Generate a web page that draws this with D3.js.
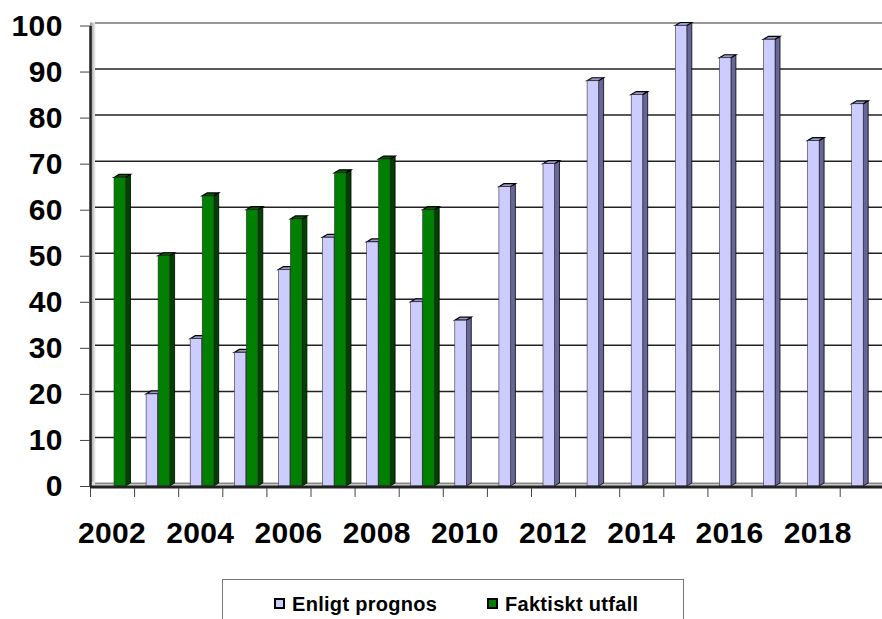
<!DOCTYPE html>
<html>
<head>
<meta charset="utf-8">
<script src="https://cdn.jsdelivr.net/npm/d3@7"></script>
<style>
  body { margin: 0; background: #fff; }
  text { font-family: "Liberation Sans", Arial, sans-serif; font-weight: bold; }
</style>
</head>
<body>
<script>
var w = 882;
var h = 619;

// chart data
var years = [2002, 2003, 2004, 2005, 2006, 2007, 2008, 2009, 2010,
   2011, 2012, 2013, 2014, 2015, 2016, 2017, 2018, 2019];
var prognos = [null, 20, 32, 29, 47, 54, 53, 40, 36,
   65, 70, 88, 85, 100, 93, 97, 75, 83];
var utfall = [67, 50, 63, 60, 58, 68, 71, 60, null,
   null, null, null, null, null, null, null, null, null];
var seriesNames = ['Enligt prognos', 'Faktiskt utfall'];
var yTicks = [0, 10, 20, 30, 40, 50, 60, 70, 80, 90, 100];
var xLabels = [2002, 2004, 2006, 2008, 2010, 2012, 2014, 2016, 2018];

var colors = {
   'Enligt prognos': { front: '#ccccff', side: '#666699', top: '#9999cc' },
   'Faktiskt utfall': { front: '#008000', side: '#004000', top: '#006000' }
};

var left = 90, bottom = 486;
var depthX = 5, depthY = 3;

var x = d3.scaleBand().domain(years).range([left, left + 18 * 44.1]);
var xs = d3.scaleBand().domain(seriesNames).range([12, 36]);
var y = d3.scaleLinear().domain([0, 100]).range([bottom, 25.5]);

var svg = d3.select('body')
   .append('svg')
   .attr('width', w)
   .attr('height', h);

// back wall shading
var defs = svg.append('defs');
var grad = defs.append('linearGradient').attr('id', 'wall');
grad.append('stop').attr('offset', '0%').attr('stop-color', '#888');
grad.append('stop').attr('offset', '100%').attr('stop-color', '#fff');
svg.append('rect')
   .attr('x', left)
   .attr('y', y(100) - depthY)
   .attr('width', depthX + 1)
   .attr('height', bottom - y(100) + depthY)
   .attr('fill', 'url(#wall)');

// floor
svg.append('rect')
   .attr('x', left)
   .attr('y', bottom - depthY - 1)
   .attr('width', w - left)
   .attr('height', depthY + 1)
   .attr('fill', '#ddd');

// gridlines on the back wall
svg.selectAll('line.grid')
   .data(yTicks)
   .enter()
   .append('line')
   .attr('class', 'grid')
   .attr('x1', left + depthX)
   .attr('x2', w)
   .attr('y1', function(d) { return y(d) - depthY + 0.5; })
   .attr('y2', function(d) { return y(d) - depthY + 0.5; })
   .attr('stroke', function(d) { return d === 100 ? '#999' : (d === 0 ? '#888' : '#222'); })
   .attr('stroke-width', function(d) { return d === 100 ? 2 : 1.5; });

// bars
var bars = [];
years.forEach(function(yr, i) {
   if (prognos[i] != null) bars.push({ year: yr, s: seriesNames[0], v: prognos[i] });
   if (utfall[i] != null) bars.push({ year: yr, s: seriesNames[1], v: utfall[i] });
});

var bw = xs.bandwidth() - 0.5;
var g = svg.selectAll('g.bar')
   .data(bars)
   .enter()
   .append('g')
   .attr('class', 'bar');

g.append('path')
   .attr('d', function(d) {
      var x0 = x(d.year) + xs(d.s) + bw, yt = y(d.v);
      return 'M' + x0 + ',' + bottom + 'L' + x0 + ',' + yt +
         'L' + (x0 + depthX) + ',' + (yt - depthY) +
         'L' + (x0 + depthX) + ',' + (bottom - depthY) + 'Z';
   })
   .attr('fill', function(d) { return colors[d.s].side; })
   .attr('stroke', '#000')
   .attr('stroke-width', 0.8);

g.append('path')
   .attr('d', function(d) {
      var x0 = x(d.year) + xs(d.s), yt = y(d.v);
      return 'M' + x0 + ',' + yt + 'L' + (x0 + depthX) + ',' + (yt - depthY) +
         'L' + (x0 + bw + depthX) + ',' + (yt - depthY) +
         'L' + (x0 + bw) + ',' + yt + 'Z';
   })
   .attr('fill', function(d) { return colors[d.s].top; })
   .attr('stroke', '#000')
   .attr('stroke-width', 1.2);

g.append('rect')
   .attr('x', function(d) { return x(d.year) + xs(d.s); })
   .attr('y', function(d) { return y(d.v); })
   .attr('width', bw)
   .attr('height', function(d) { return bottom - y(d.v); })
   .attr('fill', function(d) { return colors[d.s].front; })
   .attr('stroke', '#333')
   .attr('stroke-width', 0.6);

// y axis
var yAxis = svg.append('g')
   .attr('transform', 'translate(' + left + ',0)')
   .call(d3.axisLeft(y).tickValues(yTicks).tickSize(10).tickPadding(17).tickSizeOuter(0));
yAxis.select('.domain').attr('stroke', '#222').attr('stroke-width', 2.5);
yAxis.selectAll('.tick line').attr('stroke', '#444');
yAxis.selectAll('text')
   .attr('font-size', '30px')
   .attr('font-family', '"Liberation Sans", Arial, sans-serif')
   .attr('font-weight', 'bold')
   .attr('letter-spacing', '0.5px')
   .attr('fill', '#000');

// x axis line
svg.append('line')
   .attr('x1', left).attr('x2', w)
   .attr('y1', bottom + 1).attr('y2', bottom + 1)
   .attr('stroke', '#222')
   .attr('stroke-width', 3);

// category ticks at band edges
svg.selectAll('line.xtick')
   .data(years)
   .enter()
   .append('line')
   .attr('class', 'xtick')
   .attr('x1', function(d) { return x(d) + 0.5; })
   .attr('x2', function(d) { return x(d) + 0.5; })
   .attr('y1', bottom + 2)
   .attr('y2', bottom + 11)
   .attr('stroke', '#444');

// x labels
var xAxis = svg.append('g')
   .attr('transform', 'translate(0,' + (bottom + 1) + ')')
   .call(d3.axisBottom(x).tickValues(xLabels).tickSize(0).tickPadding(35));
xAxis.select('.domain').remove();
xAxis.selectAll('text')
   .attr('font-size', '30px')
   .attr('font-family', '"Liberation Sans", Arial, sans-serif')
   .attr('font-weight', 'bold')
   .attr('letter-spacing', '0.3px')
   .attr('fill', '#000');

// legend
var legend = svg.append('g');
legend.append('rect')
   .attr('x', 222.5).attr('y', 579.5)
   .attr('width', 461).attr('height', 60)
   .attr('fill', '#fff')
   .attr('stroke', '#777');
var legX = [275, 488];
var item = legend.selectAll('g.item')
   .data(seriesNames)
   .enter()
   .append('g')
   .attr('class', 'item')
   .attr('transform', function(d, i) { return 'translate(' + legX[i] + ',0)'; });
item.append('rect')
   .attr('x', 0).attr('y', 599)
   .attr('width', 9).attr('height', 9)
   .attr('fill', function(d) { return colors[d].front; })
   .attr('stroke', '#000')
   .attr('stroke-width', 2);
item.append('text')
   .attr('x', 17)
   .attr('y', 611)
   .attr('font-size', '20px')
   .attr('letter-spacing', '0.3px')
   .text(function(d) { return d; });
</script>
</body>
</html>
